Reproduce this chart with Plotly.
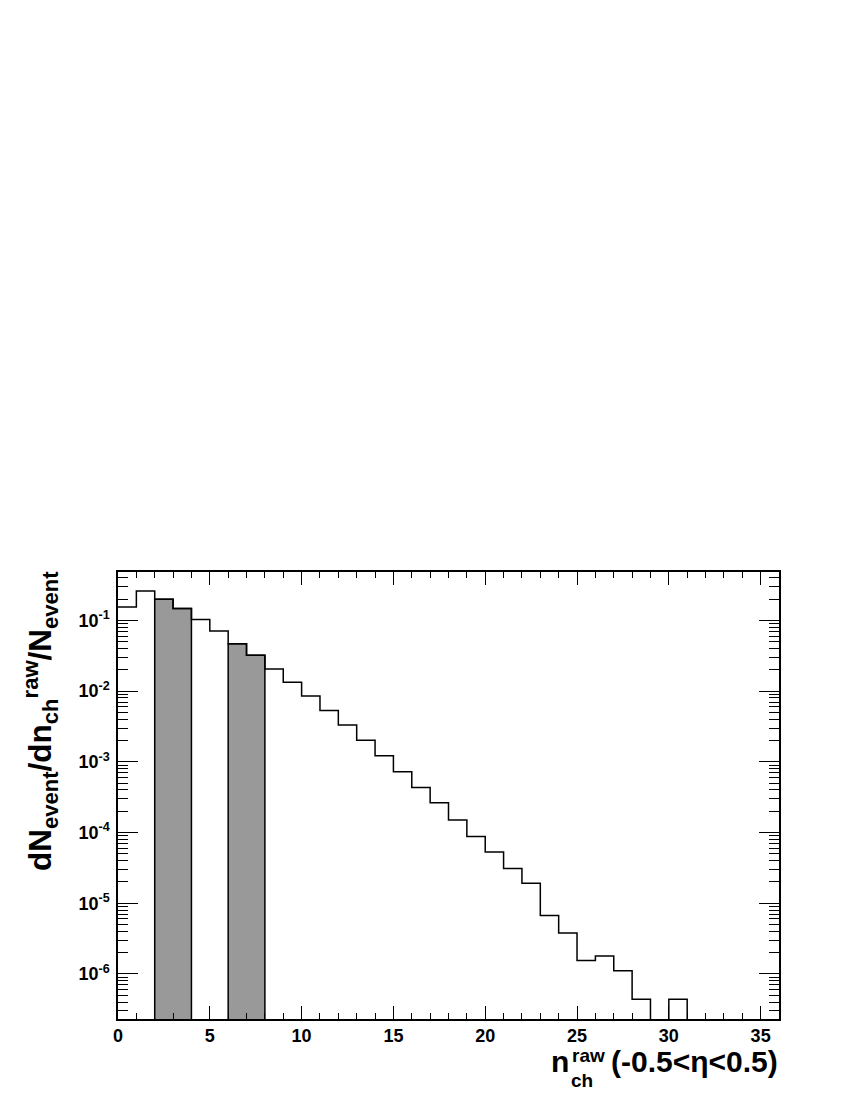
import numpy as np
import plotly.graph_objects as go

# ---------------- data ----------------
bin_edges = list(range(0, 37))  # 36 bins of width 1, 0..36
bin_values = [0.154, 0.259, 0.198, 0.1465, 0.103, 0.0706, 0.0468, 0.032,
              0.0205, 0.0133, 0.0085, 0.0053, 0.0033, 0.00201, 0.00122,
              0.000724, 0.000434, 0.000264, 0.00015, 8.8e-5, 5.3e-5, 3.1e-5,
              1.92e-5, 6.7e-6, 3.8e-6, 1.55e-6, 1.79e-6, 1.11e-6, 4.4e-7, 0.0,
              4.4e-7, 0.0, 0.0, 0.0, 0.0, 0.0]
highlight_groups = [(2, 4), (6, 8)]  # bin index ranges [lo, hi) filled grey

x_tickvals = [0, 5, 10, 15, 20, 25, 30, 35]
x_ticktext = ["0", "5", "10", "15", "20", "25", "30", "35"]
y_tickvals = [1e-6, 1e-5, 1e-4, 1e-3, 1e-2, 1e-1]
y_ticktext = ["10<sup>-6</sup>", "10<sup>-5</sup>", "10<sup>-4</sup>",
              "10<sup>-3</sup>", "10<sup>-2</sup>", "10<sup>-1</sup>"]

x_title_main = "n"
x_title_sup = "raw"
x_title_sub = "ch"
x_title_rest = "(-0.5&lt;η&lt;0.5)"
y_title = "dN<sub>event</sub>/dn<sub>ch</sub><sup>raw</sup>/N<sub>event</sub>"

# ---------------- layout geometry (screen pixels) ----------------
OFF = 8                      # default page body margin
W, H = 850 - 2 * OFF, 1100 - 2 * OFF
L, R, T, B = 118 - OFF, 779 - OFF, 572 - OFF, 1019 - OFF
FONT = "Liberation Sans, Arial, Helvetica, sans-serif"
FLOOR = 1e-9
y_lo, y_hi = 2.31e-7, 0.482

def px_x(p):  # screen px -> paper
    return (p - OFF - L) / (R - L)

def px_y(p):
    return (B - (p - OFF)) / (B - T)

fig = go.Figure()

# grey filled bins
for lo, hi in highlight_groups:
    xs, ys = [bin_edges[lo]], [FLOOR]
    for i in range(lo, hi):
        xs += [bin_edges[i], bin_edges[i + 1]]
        ys += [bin_values[i], bin_values[i]]
    xs.append(bin_edges[hi])
    ys.append(FLOOR)
    fig.add_trace(go.Scatter(x=xs, y=ys, mode="lines", fill="toself",
                             fillcolor="rgb(153,153,153)",
                             line=dict(color="black", width=1.5),
                             hoverinfo="skip", showlegend=False))

# histogram outline
step_y = [v if v > 0 else FLOOR for v in bin_values]
step_y = step_y + [step_y[-1]]
fig.add_trace(go.Scatter(x=bin_edges, y=step_y, mode="lines",
                         line=dict(color="black", width=1.5, shape="hv"),
                         hoverinfo="skip", showlegend=False))

minor_y = [k * 10.0 ** n for n in range(-8, 1) for k in range(2, 10)
           if y_lo <= k * 10.0 ** n <= y_hi]

fig.update_layout(
    width=W, height=H,
    margin=dict(l=L, r=W - R, t=T, b=H - B, pad=0),
    paper_bgcolor="white", plot_bgcolor="white",
    font=dict(family=FONT, color="black"),
    xaxis=dict(range=[0, 36], showgrid=False, zeroline=False,
               showline=True, linecolor="black", linewidth=1.5, mirror="allticks",
               ticks="inside", ticklen=13, tickwidth=1.2, tickcolor="black",
               tickmode="array", tickvals=x_tickvals, ticktext=x_ticktext,
               ticklabelstandoff=0,
               tickfont=dict(family=FONT, size=18, weight="bold"),
               minor=dict(ticks="inside", ticklen=6.5, tickwidth=1.2,
                          tickcolor="black", dtick=1, showgrid=False)),
    yaxis=dict(type="log", range=[np.log10(y_lo), np.log10(y_hi)],
               showgrid=False, zeroline=False,
               showline=True, linecolor="black", linewidth=1.5, mirror="allticks",
               ticks="inside", ticklen=20, tickwidth=1.2, tickcolor="black",
               tickmode="array", tickvals=y_tickvals, ticktext=y_ticktext,
               ticklabelstandoff=3,
               tickfont=dict(family=FONT, size=18, weight="bold"),
               minor=dict(ticks="inside", ticklen=10, tickwidth=1.2,
                          tickcolor="black", tickmode="array",
                          tickvals=minor_y, showgrid=False)),
)

# x-axis title (stacked sub/superscript), positions in screen px
fig.add_annotation(xref="paper", yref="paper", x=px_x(549), y=px_y(1061),
                   xanchor="left", yanchor="middle", showarrow=False,
                   text=x_title_main, font=dict(family=FONT, size=30, weight="bold"))
fig.add_annotation(xref="paper", yref="paper", x=px_x(570), y=px_y(1055),
                   xanchor="left", yanchor="middle", showarrow=False,
                   text=x_title_sup, font=dict(family=FONT, size=19, weight="bold"))
fig.add_annotation(xref="paper", yref="paper", x=px_x(569), y=px_y(1080),
                   xanchor="left", yanchor="middle", showarrow=False,
                   text=x_title_sub, font=dict(family=FONT, size=19, weight="bold"))
fig.add_annotation(xref="paper", yref="paper", x=px_x(609), y=px_y(1061),
                   xanchor="left", yanchor="middle", showarrow=False,
                   text=x_title_rest, font=dict(family=FONT, size=30, weight="bold"))

# y-axis title (rotated)
fig.add_annotation(xref="paper", yref="paper", x=px_x(40), y=px_y(569),
                   xanchor="center", yanchor="top", showarrow=False, textangle=-90,
                   text=y_title, font=dict(family=FONT, size=31.5, weight="bold"))

fig.write_html("out.html")
